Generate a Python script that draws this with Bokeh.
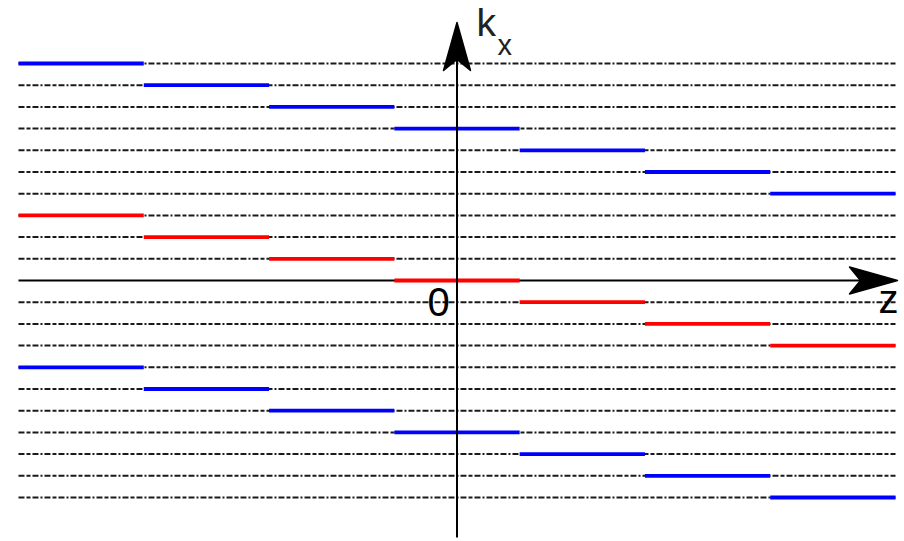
from bokeh.plotting import figure
from bokeh.models import Label
from bokeh.embed import file_html
from bokeh.resources import INLINE

# ---- data ----
z_centers = [-3, -2, -1, 0, 1, 2, 3]
blue_top_k = [10, 9, 8, 7, 6, 5, 4]
red_k = [3, 2, 1, 0, -1, -2, -3]
blue_bottom_k = [-4, -5, -6, -7, -8, -9, -10]
grid_k = [k for k in range(-10, 11) if k != 0]
seg_half = 0.5

# ---- geometry (pixel scale helpers) ----
W, H = 904, 541
zpx = 125.29   # px per z unit
kpx = 21.7     # px per k unit
ox, oy = 456.5, 280.0   # pixel position of the origin
x_range = (-ox / zpx, (W - ox) / zpx)
y_range = (-(H - oy) / kpx, oy / kpx)

p = figure(width=W, height=H, x_range=x_range, y_range=y_range,
           output_backend="svg", toolbar_location=None, min_border=0,
           x_axis_location=None, y_axis_location=None)
p.grid.visible = False
p.outline_line_color = None
p.background_fill_color = "white"

zmin = min(z_centers) - seg_half
zmax = max(z_centers) + seg_half

# dashed grid lines
p.segment(x0=[zmin] * len(grid_k), x1=[zmax] * len(grid_k), y0=grid_k, y1=grid_k,
          line_color="#1a1a1a", line_width=2, line_dash="6 2 4 2 6 2 2 2")

def steps(ks, color):
    p.segment(x0=[z - seg_half for z in z_centers], x1=[z + seg_half for z in z_centers],
              y0=ks, y1=ks, line_color=color, line_width=3.8)

# horizontal axis line (z)
tip_z = (897 - ox) / zpx
p.segment(x0=[zmin], x1=[tip_z - 20 / zpx], y0=[0], y1=[0], line_color="black", line_width=2)

steps(blue_top_k, "#0000ff")
steps(red_k, "#ff0000")
steps(blue_bottom_k, "#0000ff")

# vertical axis line (k_x)
tip_k = (oy - 22) / kpx
bottom_k = (oy - 537) / kpx
p.segment(x0=[0], x1=[0], y0=[bottom_k], y1=[tip_k - 20 / kpx], line_color="black", line_width=2)

# arrow heads (notched)
L, hw, notch = 48, 13.5, 37
p.patch(x=[0, hw / zpx, 0, -hw / zpx],
        y=[tip_k, tip_k - L / kpx, tip_k - notch / kpx, tip_k - L / kpx],
        fill_color="black", line_color="black", line_width=1.5, line_join="round")
p.patch(x=[tip_z, tip_z - L / zpx, tip_z - notch / zpx, tip_z - L / zpx],
        y=[0, hw / kpx, 0, -hw / kpx],
        fill_color="black", line_color="black", line_width=1.5, line_join="round")

# labels (y values compensate for how the baseline is rendered)
font = "Liberation Sans"
p.add_layout(Label(x=(476 - ox) / zpx, y=(oy - 22) / kpx, text="k",
                   text_font=font, text_font_size="39px", text_color="#222222",
                   text_align="left", text_baseline="alphabetic"))
p.add_layout(Label(x=(497 - ox) / zpx, y=(oy - 44) / kpx, text="x",
                   text_font=font, text_font_size="29px", text_color="#222222",
                   text_align="left", text_baseline="alphabetic"))
p.add_layout(Label(x=(438 - ox) / zpx, y=(oy - 301) / kpx, text="0",
                   text_font=font, text_font_size="40px", text_color="black",
                   text_align="center", text_baseline="alphabetic"))
p.add_layout(Label(x=(888 - ox) / zpx, y=(oy - 298) / kpx, text="z",
                   text_font=font, text_font_size="40px", text_color="black",
                   text_align="center", text_baseline="alphabetic"))

open("out.html", "w").write(file_html(p, INLINE))
